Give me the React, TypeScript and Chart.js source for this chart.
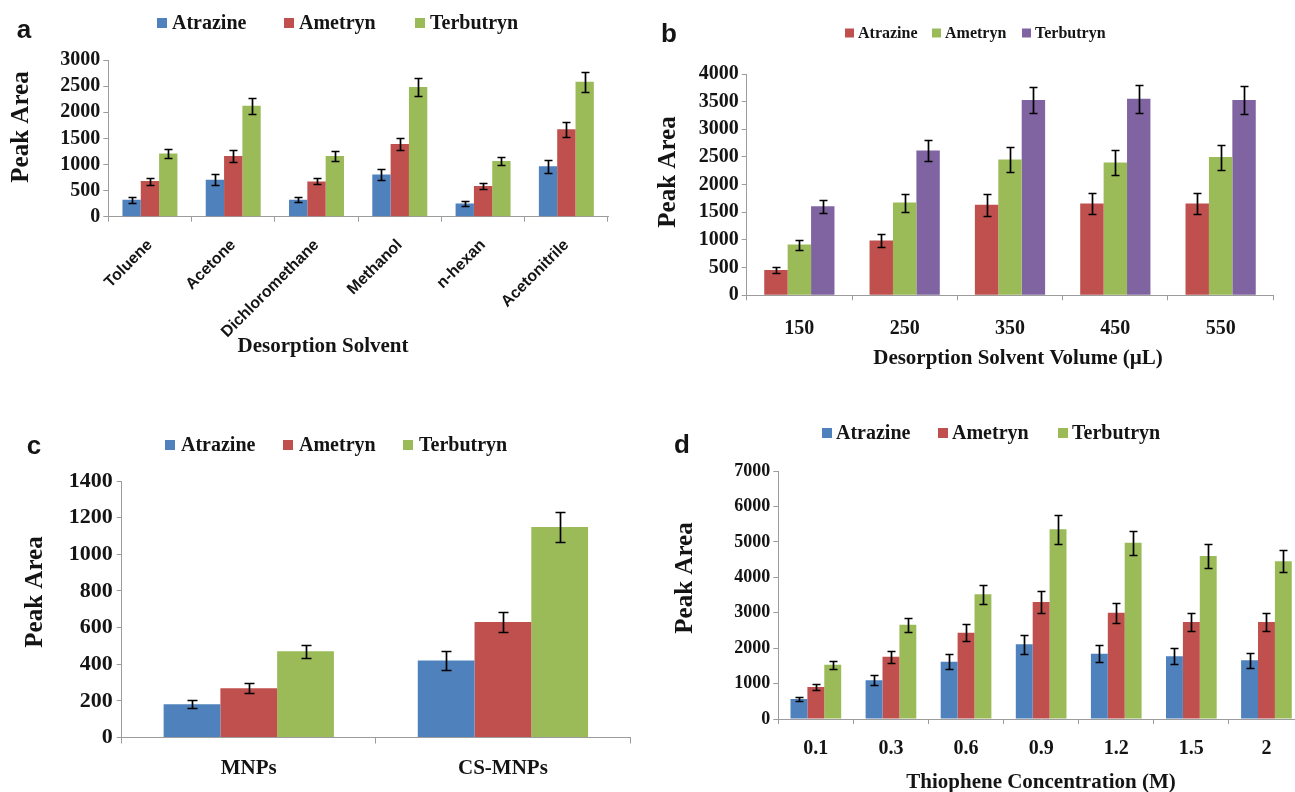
import React, { useEffect, useRef } from "react";
import { Chart, registerables } from "chart.js";

Chart.register(...registerables);

// ---------------- DATA ----------------
const SERIES = ["Atrazine", "Ametryn", "Terbutryn"];

// Panel a
const aSolvents = ["Toluene", "Acetone", "Dichloromethane", "Methanol", "n-hexan", "Acetonitrile"];
const aAtrazine = [325, 708, 325, 810, 255, 964];
const aAtrazineErr = [54, 100, 48, 105, 41, 128];
const aAmetryn = [683, 1161, 676, 1391, 587, 1672];
const aAmetrynErr = [67, 121, 57, 118, 54, 150];
const aTerbutryn = [1212, 2125, 1161, 2482, 1066, 2585];
const aTerbutrynErr = [90, 153, 96, 179, 80, 191];
const aYTicks = [0, 500, 1000, 1500, 2000, 2500, 3000];

// Panel b
const bVolumes = ["150", "250", "350", "450", "550"];
const bAtrazine = [458, 989, 1635, 1659, 1659];
const bAtrazineErr = [51, 124, 193, 193, 193];
const bAmetryn = [917, 1677, 2455, 2401, 2498];
const bAmetrynErr = [90, 163, 229, 220, 226];
const bTerbutryn = [1611, 2618, 3529, 3554, 3529];
const bTerbutrynErr = [115, 187, 241, 250, 253];
const bYTicks = [0, 500, 1000, 1500, 2000, 2500, 3000, 3500, 4000];

// Panel c
const cSorbents = ["MNPs", "CS-MNPs"];
const cAtrazine = [182, 420];
const cAtrazineErr = [23, 51];
const cAmetryn = [269, 631];
const cAmetrynErr = [27, 55];
const cTerbutryn = [471, 1149];
const cTerbutrynErr = [35, 80];
const cYTicks = [0, 200, 400, 600, 800, 1000, 1200, 1400];

// Panel d
const dConcs = ["0.1", "0.3", "0.6", "0.9", "1.2", "1.5", "2"];
const dAtrazine = [564, 1091, 1618, 2107, 1844, 1769, 1656];
const dAtrazineErr = [66, 141, 216, 273, 235, 230, 207];
const dAmetryn = [903, 1759, 2437, 3302, 3001, 2738, 2738];
const dAmetrynErr = [85, 174, 235, 306, 282, 245, 245];
const dTerbutryn = [1533, 2662, 3519, 5353, 4977, 4601, 4450];
const dTerbutrynErr = [118, 202, 268, 400, 343, 343, 310];
const dYTicks = [0, 1000, 2000, 3000, 4000, 5000, 6000, 7000];

// ---------------- STYLE ----------------
const SERIF = "'Times New Roman', 'Liberation Serif', serif";
const SANS = "Arial, 'Liberation Sans', sans-serif";
const BLUE = "#4F81BD";
const RED = "#C0504D";
const GREEN = "#9BBB59";
const PURPLE = "#8064A2";
const AXIS = "#9c9c9c";
const INK = "#141414";

// ---------------- PLUGINS ----------------
function errorBarPlugin(cap: number) {
  return {
    id: "errorBars",
    afterDatasetsDraw(chart: any) {
      const ctx = chart.ctx;
      const ys = chart.scales.y;
      ctx.save();
      ctx.strokeStyle = "#000";
      ctx.lineWidth = 1.7;
      const half = cap / 2;
      chart.data.datasets.forEach((ds: any, i: number) => {
        const meta = chart.getDatasetMeta(i);
        if (!ds.errors) return;
        meta.data.forEach((bar: any, j: number) => {
          const v = ds.data[j];
          const e = ds.errors[j];
          const x = Math.round(bar.x) + 0.5;
          const yTop = Math.round(ys.getPixelForValue(v + e)) + 0.5;
          const yBot = Math.round(ys.getPixelForValue(v - e)) + 0.5;
          ctx.beginPath();
          ctx.moveTo(x, yBot);
          ctx.lineTo(x, yTop);
          ctx.moveTo(x - half, yTop);
          ctx.lineTo(x + half, yTop);
          ctx.moveTo(x - half, yBot);
          ctx.lineTo(x + half, yBot);
          ctx.stroke();
        });
      });
      ctx.restore();
    },
  };
}

function legendPlugin(cfg: { xs: number[]; y: number; box: number; gap: number; font: string }) {
  return {
    id: "boxLegend",
    afterDraw(chart: any) {
      const ctx = chart.ctx;
      ctx.save();
      ctx.font = cfg.font;
      ctx.textBaseline = "middle";
      ctx.textAlign = "left";
      chart.data.datasets.forEach((ds: any, i: number) => {
        const x = cfg.xs[i];
        ctx.fillStyle = ds.backgroundColor;
        ctx.fillRect(x, cfg.y - cfg.box / 2, cfg.box, cfg.box);
        ctx.fillStyle = INK;
        ctx.fillText(ds.label, x + cfg.box + cfg.gap, cfg.y + 1);
      });
      ctx.restore();
    },
  };
}

type TextItem = { text: string; x: number; y: number; font: string; rot?: number };
function textPlugin(items: TextItem[]) {
  return {
    id: "panelText",
    afterDraw(chart: any) {
      const ctx = chart.ctx;
      items.forEach((it) => {
        ctx.save();
        ctx.font = it.font;
        ctx.fillStyle = INK;
        ctx.textAlign = "center";
        ctx.textBaseline = "middle";
        ctx.translate(it.x, it.y);
        if (it.rot) ctx.rotate(it.rot);
        ctx.fillText(it.text, 0, 0);
        ctx.restore();
      });
    },
  };
}

// ---------------- CONFIG BUILDER ----------------
type PanelSpec = {
  labels: string[];
  series: { label: string; data: number[]; errors: number[]; color: string }[];
  yTicks: number[];
  catPct: number;
  padTop: number;
  padRight: number;
  yW: number;
  xH: number;
  xFont: any;
  xPad: number;
  xRot: number;
  xTickLen: number;
  yFont: any;
  yPad: number;
  cap: number;
  legend: { xs: number[]; y: number; box: number; gap: number; font: string };
  texts: TextItem[];
};

function buildConfig(p: PanelSpec): any {
  const maxY = p.yTicks[p.yTicks.length - 1];
  return {
    type: "bar",
    data: {
      labels: p.labels,
      datasets: p.series.map((s) => ({
        label: s.label,
        data: s.data,
        errors: s.errors,
        backgroundColor: s.color,
        borderWidth: 0,
        categoryPercentage: p.catPct,
        barPercentage: 1,
      })),
    },
    options: {
      animation: false,
      responsive: false,
      devicePixelRatio: 1,
      layout: { padding: { top: p.padTop, right: p.padRight, left: 0, bottom: 0 } },
      plugins: { legend: { display: false }, tooltip: { enabled: false }, title: { display: false } },
      scales: {
        x: {
          grid: {
            display: true,
            drawOnChartArea: false,
            drawTicks: true,
            tickLength: p.xTickLen,
            color: AXIS,
            offset: true,
          },
          border: { display: true, color: AXIS, width: 1 },
          ticks: {
            font: p.xFont,
            color: INK,
            padding: p.xPad,
            autoSkip: false,
            maxRotation: p.xRot,
            minRotation: p.xRot,
          },
          afterFit: (s: any) => {
            s.height = p.xH;
          },
        },
        y: {
          min: 0,
          max: maxY,
          grid: { display: true, drawOnChartArea: false, drawTicks: true, tickLength: 5, color: AXIS },
          border: { display: true, color: AXIS, width: 1 },
          ticks: {
            font: p.yFont,
            color: INK,
            padding: p.yPad,
            autoSkip: false,
            callback: (v: any) => `${v}`,
          },
          afterBuildTicks: (s: any) => {
            s.ticks = p.yTicks.map((v) => ({ value: v }));
          },
          afterFit: (s: any) => {
            s.width = p.yW;
          },
        },
      },
    },
    plugins: [errorBarPlugin(p.cap), legendPlugin(p.legend), textPlugin(p.texts)],
  };
}

const ROT = -Math.PI / 2;
const letterFont = `bold 26px ${SANS}`;
const yTitleFont = `bold 25px ${SERIF}`;
const xTitleFont = `bold 21px ${SERIF}`;

const panelA: PanelSpec = {
  labels: aSolvents,
  series: [
    { label: SERIES[0], data: aAtrazine, errors: aAtrazineErr, color: BLUE },
    { label: SERIES[1], data: aAmetryn, errors: aAmetrynErr, color: RED },
    { label: SERIES[2], data: aTerbutryn, errors: aTerbutrynErr, color: GREEN },
  ],
  yTicks: aYTicks,
  catPct: 0.66,
  padTop: 60,
  padRight: 32,
  yW: 108.3,
  xH: 153.3,
  xFont: { family: SANS, size: 16, weight: "bold" },
  xPad: 14,
  xRot: 45,
  xTickLen: 5,
  yFont: { family: SERIF, size: 20, weight: "bold", lineHeight: 1 },
  yPad: 3,
  cap: 8,
  legend: { xs: [157, 284, 415], y: 23, box: 10, gap: 5, font: `bold 20px ${SERIF}` },
  texts: [
    { text: "a", x: 24, y: 31, font: letterFont },
    { text: "Peak Area", x: 22, y: 127, font: yTitleFont, rot: ROT },
    { text: "Desorption Solvent", x: 323, y: 347, font: xTitleFont },
  ],
};

const panelB: PanelSpec = {
  labels: bVolumes,
  series: [
    { label: SERIES[0], data: bAtrazine, errors: bAtrazineErr, color: RED },
    { label: SERIES[1], data: bAmetryn, errors: bAmetrynErr, color: GREEN },
    { label: SERIES[2], data: bTerbutryn, errors: bTerbutrynErr, color: PURPLE },
  ],
  yTicks: bYTicks,
  catPct: 0.667,
  padTop: 74,
  padRight: 21.7,
  yW: 106.7,
  xH: 84.7,
  xFont: { family: SERIF, size: 20, weight: "bold" },
  xPad: 17,
  xRot: 0,
  xTickLen: 5,
  yFont: { family: SERIF, size: 20, weight: "bold", lineHeight: 1 },
  yPad: 3,
  cap: 8,
  legend: { xs: [205, 292, 382], y: 33, box: 9, gap: 4, font: `bold 16px ${SERIF}` },
  texts: [
    { text: "b", x: 29, y: 35, font: letterFont },
    { text: "Peak Area", x: 29, y: 172, font: yTitleFont, rot: ROT },
    { text: "Desorption Solvent Volume (\u00B5L)", x: 378, y: 359, font: xTitleFont },
  ],
};

const panelC: PanelSpec = {
  labels: cSorbents,
  series: [
    { label: SERIES[0], data: cAtrazine, errors: cAtrazineErr, color: BLUE },
    { label: SERIES[1], data: cAmetryn, errors: cAmetrynErr, color: RED },
    { label: SERIES[2], data: cTerbutryn, errors: cTerbutrynErr, color: GREEN },
  ],
  yTicks: cYTicks,
  catPct: 0.67,
  padTop: 81,
  padRight: 10,
  yW: 121.7,
  xH: 54.5,
  xFont: { family: SERIF, size: 21, weight: "bold" },
  xPad: 12,
  xRot: 0,
  xTickLen: 6,
  yFont: { family: SERIF, size: 22, weight: "bold", lineHeight: 1 },
  yPad: 4,
  cap: 10,
  legend: { xs: [165, 283, 403], y: 45, box: 10, gap: 6, font: `bold 20px ${SERIF}` },
  texts: [
    { text: "c", x: 34, y: 47, font: letterFont },
    { text: "Peak Area", x: 36, y: 192, font: yTitleFont, rot: ROT },
  ],
};

const panelD: PanelSpec = {
  labels: dConcs,
  series: [
    { label: SERIES[0], data: dAtrazine, errors: dAtrazineErr, color: BLUE },
    { label: SERIES[1], data: dAmetryn, errors: dAmetrynErr, color: RED },
    { label: SERIES[2], data: dTerbutryn, errors: dTerbutrynErr, color: GREEN },
  ],
  yTicks: dYTicks,
  catPct: 0.675,
  padTop: 71,
  padRight: 6,
  yW: 138.3,
  xH: 73,
  xFont: { family: SERIF, size: 20, weight: "bold" },
  xPad: 13,
  xRot: 0,
  xTickLen: 5,
  yFont: { family: SERIF, size: 18, weight: "bold", lineHeight: 1 },
  yPad: 3,
  cap: 8,
  legend: { xs: [182, 298, 418], y: 33, box: 10, gap: 4, font: `bold 20px ${SERIF}` },
  texts: [
    { text: "d", x: 42, y: 46, font: letterFont },
    { text: "Peak Area", x: 46, y: 178, font: yTitleFont, rot: ROT },
    { text: "Thiophene Concentration (M)", x: 401, y: 383, font: xTitleFont },
  ],
};

function Panel(props: { left: number; top: number; width: number; height: number; spec: PanelSpec }) {
  const ref = useRef<HTMLCanvasElement | null>(null);
  useEffect(() => {
    if (!ref.current) return;
    const chart = new Chart(ref.current, buildConfig(props.spec));
    return () => chart.destroy();
  }, []);
  return (
    <canvas
      ref={ref}
      width={props.width}
      height={props.height}
      style={{ position: "absolute", left: props.left, top: props.top, width: props.width, height: props.height }}
    />
  );
}

export default function App() {
  return (
    <div
      style={{
        position: "fixed",
        left: 0,
        top: 0,
        width: 1295,
        height: 792,
        overflow: "hidden",
        background: "#ffffff",
      }}
    >
      <Panel left={0} top={0} width={640} height={370} spec={panelA} />
      <Panel left={640} top={0} width={655} height={380} spec={panelB} />
      <Panel left={0} top={400} width={640} height={392} spec={panelC} />
      <Panel left={640} top={400} width={670} height={392} spec={panelD} />
    </div>
  );
}
